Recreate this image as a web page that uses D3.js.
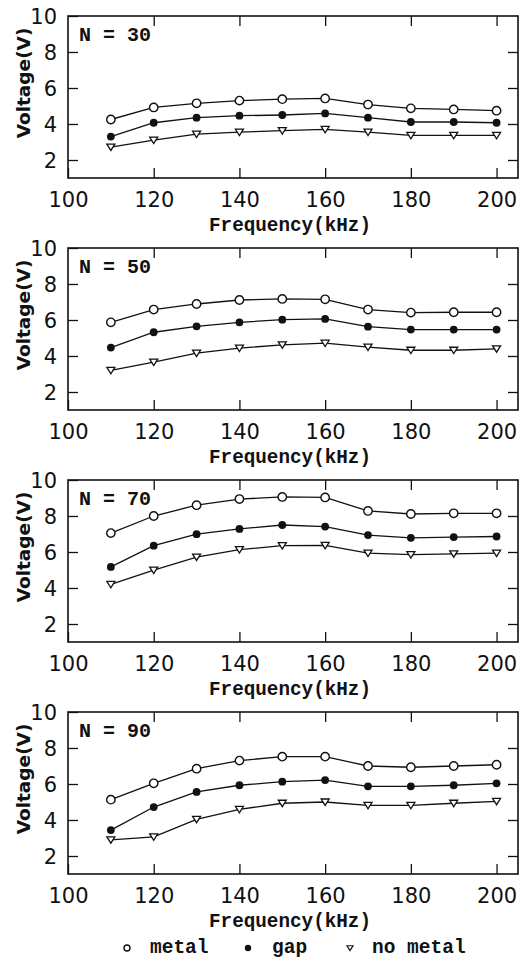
<!DOCTYPE html>
<html>
<head>
<meta charset="utf-8">
<script src="https://cdn.jsdelivr.net/npm/d3@7"></script>
<style>
  body { margin: 0; background: #fff; }
  svg { display: block; }
  .tick text { font-family: "DejaVu Sans", sans-serif; font-size: 21px; fill: #111; }
  .mono { font-family: "Liberation Mono", "Courier New", monospace; font-weight: bold; fill: #111; }
</style>
</head>
<body>
<svg id="chart" width="528" height="959"></svg>
<script>
// frequency (kHz)
const freq = [110, 120, 130, 140, 150, 160, 170, 180, 190, 200]

// number of turns for each panel
const turns = [30, 50, 70, 90]

// voltage (V), one row per panel
const metal = [
  [4.25, 4.92, 5.15, 5.3, 5.38, 5.42, 5.08, 4.87, 4.81, 4.74],
  [5.87, 6.58, 6.89, 7.11, 7.17, 7.15, 6.58, 6.41, 6.43, 6.43],
  [7.05, 8.0, 8.6, 8.94, 9.06, 9.03, 8.28, 8.11, 8.15, 8.15],
  [5.13, 6.04, 6.85, 7.3, 7.52, 7.52, 7.0, 6.93, 7.0, 7.07],
]
const gap = [
  [3.3, 4.07, 4.35, 4.46, 4.5, 4.59, 4.35, 4.11, 4.11, 4.07],
  [4.47, 5.32, 5.65, 5.87, 6.02, 6.06, 5.63, 5.47, 5.47, 5.47],
  [5.17, 6.35, 6.99, 7.28, 7.5, 7.41, 6.94, 6.79, 6.83, 6.86],
  [3.44, 4.72, 5.56, 5.93, 6.13, 6.22, 5.87, 5.87, 5.93, 6.04],
]
const noMetal = [
  [2.72, 3.1, 3.44, 3.55, 3.63, 3.7, 3.55, 3.37, 3.37, 3.37],
  [3.2, 3.66, 4.16, 4.44, 4.62, 4.71, 4.49, 4.32, 4.32, 4.4],
  [4.2, 4.99, 5.72, 6.13, 6.35, 6.37, 5.94, 5.85, 5.9, 5.94],
  [2.9, 3.06, 4.04, 4.59, 4.93, 5.0, 4.81, 4.81, 4.93, 5.04],
]

const xTickLabels = [100, 120, 140, 160, 180, 200]
const yTickLabels = [2, 4, 6, 8, 10]

const svg = d3.select("#chart")

const left = 68, plotW = 450, plotH = 162
const panelTops = [16, 248, 480, 712]
const tick = 10

const x = d3.scaleLinear().domain([100, 205]).range([left, left + plotW])
const y = d3.scaleLinear().domain([1, 10]).range([plotH, 0])

const line = d3.line().x((d, i) => x(freq[i])).y(d => y(d))

// downward pointing triangle
const triPath = (s) => `M${-s},${-s * 0.75} L${s},${-s * 0.75} L0,${s * 0.85} Z`

function drawMarkers(g, vals, kind) {
  const m = g.append("g").selectAll("g").data(vals).join("g")
    .attr("transform", (d, i) => `translate(${x(freq[i])},${y(d)})`)
  if (kind === "metal") {
    m.append("circle").attr("r", 4.2).attr("fill", "#fff").attr("stroke", "#111").attr("stroke-width", 1.4)
  } else if (kind === "gap") {
    m.append("circle").attr("r", 3.9).attr("fill", "#111")
  } else {
    m.append("path").attr("d", triPath(4)).attr("fill", "#fff").attr("stroke", "#111").attr("stroke-width", 1.3)
  }
}

turns.forEach((n, p) => {
  const g = svg.append("g").attr("transform", `translate(0,${panelTops[p]})`)

  // inward ticks on all four sides
  const bottom = g.append("g").attr("transform", `translate(0,${plotH})`)
    .call(d3.axisBottom(x).tickValues(xTickLabels).tickSize(-tick).tickPadding(14))
  const top = g.append("g")
    .call(d3.axisTop(x).tickValues(xTickLabels.slice(1)).tickSize(-tick).tickFormat(""))
  const leftAx = g.append("g").attr("transform", `translate(${left},0)`)
    .call(d3.axisLeft(y).tickValues(yTickLabels).tickSize(-tick).tickPadding(11))
  const rightAx = g.append("g").attr("transform", `translate(${left + plotW},0)`)
    .call(d3.axisRight(y).tickValues(yTickLabels.slice(0, -1)).tickSize(-tick).tickFormat(""))
  ;[bottom, top, leftAx, rightAx].forEach(a => {
    a.select(".domain").remove()
    a.selectAll(".tick line").attr("stroke", "#111").attr("stroke-width", 1.3)
  })
  leftAx.selectAll(".tick text").attr("dy", "0.36em")

  g.append("rect")
    .attr("x", left).attr("y", 0).attr("width", plotW).attr("height", plotH)
    .attr("fill", "none").attr("stroke", "#111").attr("stroke-width", 1.6)

  // series
  const series = [[metal[p], "metal"], [gap[p], "gap"], [noMetal[p], "no metal"]]
  series.forEach(([vals]) => {
    g.append("path").datum(vals).attr("d", line)
      .attr("fill", "none").attr("stroke", "#111").attr("stroke-width", 1.3)
  })
  series.forEach(([vals, kind]) => drawMarkers(g, vals, kind))

  g.append("text").attr("class", "mono")
    .attr("x", 79).attr("y", 25).attr("font-size", 20)
    .text(`N = ${n}`)

  g.append("text").attr("class", "mono")
    .attr("x", left + plotW / 2 - 3).attr("y", 215).attr("font-size", 19.3)
    .attr("text-anchor", "middle")
    .text("Frequency(kHz)")

  g.append("text")
    .attr("transform", `translate(30,67) rotate(-90)`)
    .attr("text-anchor", "middle")
    .attr("font-family", "DejaVu Sans, sans-serif").attr("font-weight", "bold")
    .attr("font-size", 18.5).attr("fill", "#111")
    .text("Voltage(V)")
})

// legend
const legend = svg.append("g").attr("transform", "translate(0,948)")
const legendItems = [
  { kind: "metal", label: "metal", mx: 127, tx: 150 },
  { kind: "gap", label: "gap", mx: 248, tx: 272 },
  { kind: "no metal", label: "no metal", mx: 350, tx: 372 },
]
legendItems.forEach(it => {
  if (it.kind === "metal") {
    legend.append("circle").attr("cx", it.mx).attr("cy", 0).attr("r", 3).attr("fill", "#fff").attr("stroke", "#111").attr("stroke-width", 1.4)
  } else if (it.kind === "gap") {
    legend.append("circle").attr("cx", it.mx).attr("cy", 0).attr("r", 3.2).attr("fill", "#111")
  } else {
    legend.append("path").attr("transform", `translate(${it.mx},0)`).attr("d", triPath(3)).attr("fill", "#fff").attr("stroke", "#111").attr("stroke-width", 1.2)
  }
  legend.append("text").attr("class", "mono")
    .attr("x", it.tx).attr("y", 5).attr("font-size", 19.5)
    .text(it.label)
})
</script>
</body>
</html>
